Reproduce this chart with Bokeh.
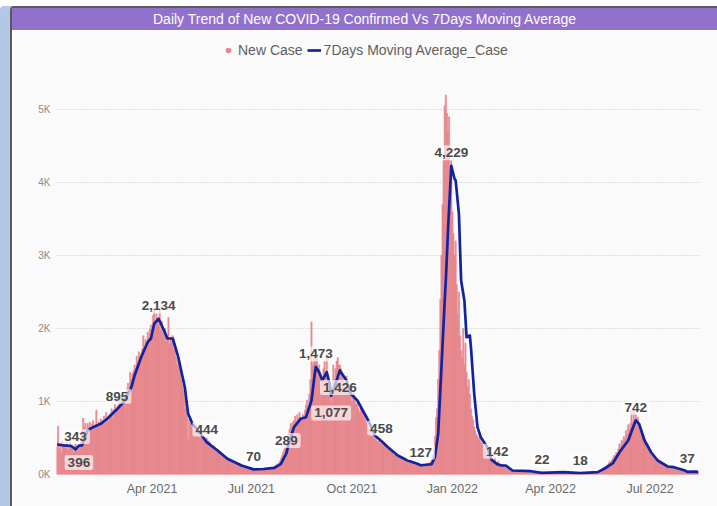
import numpy as np
from bokeh.plotting import figure
from bokeh.models import Range1d, FixedTicker, Legend, LegendItem, ColumnDataSource, Div
from bokeh.layouts import column
from bokeh.embed import file_html
from bokeh.resources import INLINE
from bokeh.core.properties import value

# ---------------- data ----------------
# day numbers are days since 2021-01-01; first bar is 2021-01-04
first_day = 3
new_case = [
    380, 660, 350, 420, 300, 450, 390,
    410, 360, 440, 330, 400, 480, 370,
    350, 300, 390, 420, 310, 360, 330,
    400, 450, 620, 770, 640, 700, 610,
    700, 650, 720, 600, 690, 740, 640,
    680, 880, 660, 720, 650, 760, 700,
    740, 800, 700, 850, 760, 720, 820,
    830, 900, 780, 880, 960, 850, 920,
    950, 1020, 900, 1080, 960, 1050, 1010,
    1100, 1180, 1250, 1150, 1400, 1300, 1380,
    1420, 1500, 1450, 1620, 1540, 1680, 1600,
    1650, 1720, 1900, 1760, 1850, 1800, 1950,
    1880, 1990, 2050, 1920, 2180, 2250, 2080,
    2200, 2130, 2060, 2250, 1980, 2100, 1950,
    1900, 2000, 1820, 1870, 2150, 1790, 1880,
    1830, 1900, 1700, 1750, 1600, 1500, 1560,
    1450, 1380, 1300, 1220, 1150, 1050, 900,
    820, 480, 760, 700, 650, 720, 600,
    620, 580, 560, 610, 530, 500, 560,
    480, 520, 440, 470, 500, 430, 460,
    430, 400, 380, 360, 390, 330, 340,
    320, 300, 290, 270, 280, 250, 240,
    230, 200, 210, 190, 180, 170, 190,
    160, 150, 140, 160, 130, 120, 140,
    120, 110, 100, 90, 105, 95, 85,
    80, 75, 70, 60, 65, 55, 70,
    60, 70, 75, 65, 80, 70, 60,
    80, 70, 90, 85, 75, 95, 80,
    90, 100, 95, 110, 120, 130, 140,
    150, 180, 220, 260, 300, 340, 380,
    420, 480, 560, 620, 700, 650, 720,
    740, 800, 700, 820, 760, 850, 780,
    760, 820, 780, 880, 950, 1020, 900,
    1100, 1300, 2090, 1500, 1550, 1600, 1700,
    1650, 1400, 1500, 1350, 1250, 1300, 1450,
    1550, 1400, 1650, 1300, 1200, 1100, 1000,
    1100, 1500, 1300, 1450, 1550, 1600, 1500,
    1500, 1450, 1380, 1300, 1250, 1200, 1350,
    1250, 1150, 1100, 1080, 1000, 1050, 1120,
    1000, 950, 980, 900, 850, 920, 860,
    880, 800, 760, 720, 700, 650, 620,
    600, 560, 530, 510, 480, 520, 460,
    450, 480, 430, 410, 440, 390, 400,
    380, 360, 340, 350, 320, 300, 310,
    280, 260, 270, 240, 250, 230, 240,
    220, 210, 200, 190, 210, 180, 190,
    170, 180, 160, 150, 160, 140, 150,
    140, 150, 130, 135, 125, 140, 130,
    130, 140, 135, 150, 145, 160, 170,
    200, 260, 350, 520, 780, 900, 1300,
    1700, 2400, 3000, 3700, 4300, 5050, 5200,
    4950, 4700, 4900, 3900, 4300, 3600, 3300,
    3000, 3200, 2600, 2200, 2500, 1900, 1700,
    1600, 2000, 1500, 1800, 1400, 1200, 1300,
    1100, 900, 800, 750, 650, 600, 550,
    520, 480, 560, 450, 430, 400, 380,
    360, 320, 300, 260, 240, 220, 200,
    190, 170, 230, 160, 150, 180, 140,
    130, 120, 140, 110, 125, 105, 115,
    95, 80, 70, 60, 55, 50, 45,
    45, 40, 50, 35, 42, 38, 40,
    35, 30, 40, 32, 28, 35, 30,
    30, 25, 28, 35, 22, 30, 26,
    24, 20, 22, 28, 18, 25, 22,
    25, 30, 22, 26, 35, 20, 24,
    22, 26, 30, 20, 28, 24, 22,
    20, 25, 18, 22, 26, 19, 23,
    18, 22, 20, 16, 24, 18, 20,
    20, 18, 15, 22, 17, 19, 16,
    20, 24, 22, 26, 21, 25, 28,
    28, 32, 30, 35, 40, 38, 45,
    50, 60, 70, 85, 95, 110, 120,
    130, 150, 180, 160, 200, 220, 260,
    250, 300, 280, 350, 420, 380, 470,
    450, 520, 480, 600, 550, 680, 620,
    700, 880, 720, 900, 760, 820, 740,
    780, 700, 650, 600, 520, 480, 450,
    420, 380, 350, 330, 300, 280, 260,
    250, 230, 210, 200, 180, 170, 160,
    150, 140, 130, 120, 115, 110, 105,
    110, 100, 95, 105, 100, 90, 95,
    90, 85, 80, 70, 75, 65, 70,
    60, 55, 50, 52, 48, 45, 50,
    42, 40, 38, 36, 40, 35, 37,
]

ma_day = [3, 9, 16, 20, 23, 26, 31, 36, 43,
          49, 55, 58, 64, 71, 74, 80, 86, 89, 92,
          96, 101, 104, 109, 114, 120, 123, 127, 132, 140,
          150, 159, 172, 183, 192, 202, 208, 213, 215, 220,
          226, 231, 236, 239, 240, 243, 246, 250, 253, 254,
          257, 262, 268, 272, 278, 283, 288, 294, 300, 306,
          315, 324, 333, 336, 346, 349, 352, 355, 358, 359,
          361, 364, 367, 368, 371, 373, 376, 378, 381, 382,
          385, 388, 391, 397, 401, 406, 410, 414, 420, 437,
          447, 467, 482, 498, 504, 512, 518, 526, 530, 533,
          536, 541, 547, 553, 562, 568, 578, 580, 587, 590]
ma_value = [411, 400, 390, 343, 396, 400, 603, 648, 694,
            763, 853, 895, 990, 1196, 1356, 1607, 1812, 1863, 2068,
            2134, 1973, 1863, 1863, 1607, 1196, 835, 694, 603, 444,
            329, 215, 123, 70, 75, 92, 146, 289, 420, 648,
            763, 785, 1014, 1380, 1473, 1401, 1288, 1401, 1219, 1077,
            1196, 1426, 1288, 1106, 1014, 877, 740, 534, 458, 374,
            260, 192, 146, 127, 140, 237, 557, 1470, 2384, 2658,
            3343, 4229, 4051, 4028, 3571, 2658, 2384, 1881, 1904, 1744,
            1106, 648, 511, 374, 200, 142, 123, 123, 55, 45,
            22, 32, 18, 32, 78, 155, 305, 466, 626, 742,
            694, 466, 305, 192, 110, 100, 55, 37, 40, 37]

label_day = [23, 20, 58, 96, 140, 183, 213, 240, 254, 262, 300, 336, 364, 406, 447, 482, 533, 580]
label_value = [396, 343, 895, 2134, 444, 70, 289, 1473, 1077, 1426, 458, 127, 4229, 142, 22, 18, 742, 37]
label_below = [1, 0, 0, 0, 0, 0, 0, 0, 1, 1, 0, 0, 0, 0, 0, 0, 0, 0]

x_tick_day = [90, 181, 273, 365, 455, 546]
x_tick_label = ["Apr 2021", "Jul 2021", "Oct 2021", "Jan 2022", "Apr 2022", "Jul 2022"]
y_tick_value = [0, 1000, 2000, 3000, 4000, 5000]
y_tick_label = ["0K", "1K", "2K", "3K", "4K", "5K"]

title_text = "Daily Trend of New COVID-19 Confirmed Vs 7Days Moving Average"
series_names = ["New Case", "7Days Moving Average_Case"]

# ---------------- style ----------------
PINK = "#E6878D"
NAVY = "#12239E"
PURPLE = "#9171CC"
BG = "#FAFAFA"
SANS = "Liberation Sans"

# ---------------- title bar ----------------
title_div = Div(text=title_text, width=705, height=22, margin=0,
                styles={"background-color": PURPLE, "color": "white",
                        "text-align": "center", "font-family": SANS,
                        "font-size": "14px", "line-height": "22px",
                        "white-space": "nowrap", "overflow": "hidden"})

# ---------------- main chart ----------------
p = figure(width=705, height=476, x_range=Range1d(2.5, 591.3), y_range=Range1d(0, 6000),
           toolbar_location=None, output_backend="svg", margin=0,
           min_border_left=44, min_border_right=18, min_border_top=6, min_border_bottom=32)
p.background_fill_color = BG
p.border_fill_color = BG
p.outline_line_color = None

bar_x = [first_day + i for i in range(len(new_case))]
p.vbar(x=bar_x, top=new_case, width=1.0, bottom=0, fill_color=PINK,
       line_color=PINK, line_width=0.7)
line_r = p.line(ma_day, ma_value, line_color=NAVY, line_width=2.7, line_join="round")

lab_src = ColumnDataSource(dict(
    x=label_day, y=label_value,
    text=[f"{v:,}" for v in label_value],
    yo=[17 if b else -13 for b in label_below],
))
p.text(x="x", y="y", text="text", y_offset="yo", source=lab_src,
       text_align="center", text_baseline="middle",
       text_font=value(SANS), text_font_style="bold",
       text_font_size="13.5px", text_color="#4a4a4a",
       background_fill_color="white", background_fill_alpha=0.65,
       padding=3, border_radius=2)

# legend proxy for the bar series (a dot, as in the reference legend)
dot_r = p.scatter(x=[-1000], y=[-1000], marker="circle", size=8, fill_color=PINK, line_color=None)

# axes
p.xaxis.ticker = FixedTicker(ticks=x_tick_day)
p.xaxis.major_label_overrides = {d: l for d, l in zip(x_tick_day, x_tick_label)}
p.yaxis.ticker = FixedTicker(ticks=y_tick_value)
p.yaxis.major_label_overrides = {v: l for v, l in zip(y_tick_value, y_tick_label)}
for ax in (p.xaxis[0], p.yaxis[0]):
    ax.axis_line_color = None
    ax.major_tick_line_color = None
    ax.minor_tick_line_color = None
    ax.major_tick_out = 0
    ax.major_tick_in = 0
    ax.minor_tick_out = 0
    ax.minor_tick_in = 0
    ax.major_label_text_font = SANS
    ax.major_label_text_color = "#6b6b6b"
p.xaxis.major_label_text_font_size = "12.5px"
p.xaxis.major_label_standoff = 7
p.yaxis.major_label_text_font_size = "10px"
p.yaxis.major_label_text_color = "#8a8a8a"
p.yaxis.major_label_standoff = 6

p.xgrid.visible = False
p.ygrid.ticker = FixedTicker(ticks=y_tick_value)
p.ygrid.grid_line_color = "#c4c4c4"
p.ygrid.grid_line_dash = "1 2"
p.ygrid.grid_line_width = 1

legend = Legend(items=[LegendItem(label=series_names[0], renderers=[dot_r]),
                       LegendItem(label=series_names[1], renderers=[line_r])],
                orientation="horizontal", location=(165, 414),
                border_line_color=None, background_fill_alpha=0,
                label_text_font=SANS, label_text_font_size="14px",
                label_text_color="#5f5f5f", glyph_width=14, glyph_height=20,
                label_standoff=3, spacing=4, padding=2, margin=0)
p.add_layout(legend)

layout = column(title_div, p, styles={"margin-left": "10px", "margin-top": "6px",
                                      "border-left": "2px solid #5a5a5a",
                                      "border-top": "2px solid #5a5a5a",
                                      "border-top-left-radius": "4px",
                                      "box-shadow": "-10px 0px 0px 0px #b4c7e7"})

open("out.html", "w").write(file_html(layout, INLINE))
